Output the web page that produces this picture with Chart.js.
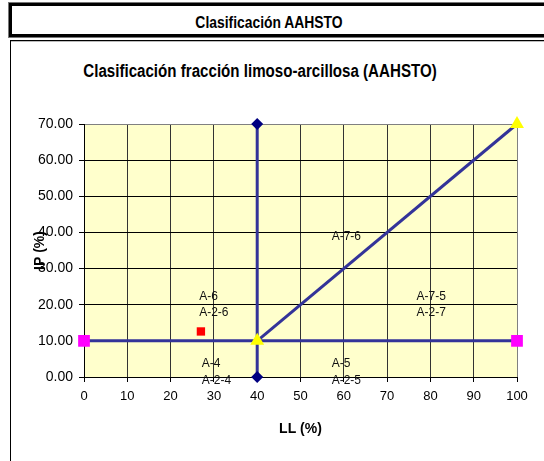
<!DOCTYPE html>
<html>
<head>
<meta charset="utf-8">
<script src="https://cdn.jsdelivr.net/npm/chart.js@4/dist/chart.umd.min.js"></script>
<style>
  html, body { margin: 0; padding: 0; background: #fff; }
  body { width: 544px; height: 461px; position: relative; overflow: hidden; font-family: "Liberation Sans", Arial, sans-serif; }
  #hdrbox { position: absolute; left: 9px; top: 3px; width: 560px; height: 28px; border: 3px solid #000; box-shadow: 0 0 0 1px #777; }
  #chartbox { position: absolute; left: 10px; top: 40px; width: 560px; height: 440px; border-left: 1px solid #000; border-top: 1px solid #000; box-shadow: inset 0 1px 0 #bbb; }
  .ttl { position: absolute; text-align: center; font-weight: bold; line-height: 1; white-space: nowrap; color: #000; }
  #hdr { left: 19px; width: 500px; top: 15px; font-size: 16px; transform: scaleX(0.867); }
  #title { left: 10px; width: 500px; top: 62px; font-size: 18px; transform: scaleX(0.84); }
  canvas { position: absolute; left: 0; top: 0; }
</style>
</head>
<body>
<div id="hdrbox"></div>
<div id="chartbox"></div>
<div class="ttl" id="hdr">Clasificación AAHSTO</div>
<div class="ttl" id="title">Clasificación fracción limoso-arcillosa (AAHSTO)</div>
<canvas id="c" width="544" height="461"></canvas>
<script>
// ---- data ----
const vertX = [40, 40];
const vertY = [0, 70];
const horizX = [0, 100];
const horizY = [10, 10];
const diagX = [40, 100];
const diagY = [10, 70];
const sampleX = [27];
const sampleY = [12.6];

const xTickValues = [0, 10, 20, 30, 40, 50, 60, 70, 80, 90, 100];
const yTickValues = [0, 10, 20, 30, 40, 50, 60, 70];

const zoneLabels = ["A-6", "A-2-6", "A-4", "A-2-4", "A-7-6", "A-7-5", "A-2-7", "A-5", "A-2-5"];
const zoneLabelX = [26.6, 26.6, 27.2, 27.2, 57.2, 76.8, 76.8, 57.2, 57.2];
const zoneLabelY = [22.3, 17.9, 3.6, -1.1, 38.7, 22.3, 17.9, 3.6, -1.1];

const xTitle = "LL (%)";
const yTitle = "IP (%)";

function pts(xs, ys) { return xs.map((x, i) => ({ x: x, y: ys[i] })); }

const plotBg = {
  id: 'plotBg',
  beforeDraw(chart) {
    const a = chart.chartArea, ctx = chart.ctx;
    ctx.save();
    ctx.fillStyle = '#FFFFCC';
    ctx.fillRect(a.left, a.top, a.right - a.left, a.bottom - a.top);
    ctx.restore();
  }
};

const zoneText = {
  id: 'zoneText',
  afterDatasetsDraw(chart) {
    const ctx = chart.ctx, xs = chart.scales.x, ys = chart.scales.y;
    ctx.save();
    ctx.font = '12px "Liberation Sans", Arial, sans-serif';
    ctx.fillStyle = '#111';
    ctx.textAlign = 'left';
    ctx.textBaseline = 'middle';
    zoneLabels.forEach((t, i) => {
      ctx.fillText(t, xs.getPixelForValue(zoneLabelX[i]), ys.getPixelForValue(zoneLabelY[i]));
    });
    ctx.restore();
  }
};

Chart.defaults.color = '#000';
Chart.defaults.font.family = '"Liberation Sans", Arial, sans-serif';

new Chart(document.getElementById('c'), {
  type: 'scatter',
  data: {
    datasets: [
      { data: pts(diagX, diagY), showLine: true, borderColor: '#333399', borderWidth: 3,
        pointStyle: 'triangle', pointRadius: 8, pointBackgroundColor: '#FFFF00', pointBorderColor: '#FFFF00', pointBorderWidth: 0, clip: false },
      { data: pts(horizX, horizY), showLine: true, borderColor: '#333399', borderWidth: 3,
        pointStyle: 'rect', pointRadius: 8.3, pointBackgroundColor: '#FF00FF', pointBorderColor: '#FF00FF', pointBorderWidth: 0, clip: false },
      { data: pts(vertX, vertY), showLine: true, borderColor: '#333399', borderWidth: 3,
        pointStyle: 'rectRot', pointRadius: 6, pointBackgroundColor: '#000080', pointBorderColor: '#000080', pointBorderWidth: 0, clip: false },
      { data: pts(sampleX, sampleY), showLine: false,
        pointStyle: 'rect', pointRadius: 5.9, pointBackgroundColor: '#FF0000', pointBorderColor: '#FF0000', pointBorderWidth: 0, clip: false }
    ]
  },
  options: {
    responsive: false,
    animation: false,
    events: [],
    layout: { padding: { left: 28, top: 124, right: 27, bottom: 19 } },
    plugins: { legend: { display: false }, tooltip: { enabled: false }, title: { display: false } },
    scales: {
      x: {
        type: 'linear', min: 0, max: 100,
        afterBuildTicks(s) { s.ticks = xTickValues.map(v => ({ value: v })); },
        afterFit(s) { s.height = 65; },
        ticks: { font: { size: 13 }, padding: 7, maxRotation: 0, callback: v => String(v) },
        grid: { color: c => (c.tick && c.tick.value === 100) ? '#808080' : '#333', tickColor: '#000', tickLength: 5, lineWidth: 1 },
        border: { color: '#000', width: 1 },
        title: { display: true, text: xTitle, font: { size: 14, weight: 'bold' }, padding: { top: 4, bottom: 4 } }
      },
      y: {
        type: 'linear', min: 0, max: 70,
        afterBuildTicks(s) { s.ticks = yTickValues.map(v => ({ value: v })); },
        afterFit(s) { s.width = 56; },
        ticks: { font: { size: 14 }, padding: 6, callback: v => Number(v).toFixed(2) },
        grid: { color: c => (c.tick && c.tick.value === 70) ? '#808080' : '#000', tickColor: '#000', tickLength: 5, lineWidth: 1 },
        border: { color: '#000', width: 1 },
        title: { display: true, text: yTitle, font: { size: 14, weight: 'bold' }, padding: { top: 4, bottom: 4 } }
      }
    }
  },
  plugins: [plotBg, zoneText]
});
</script>
</body>
</html>
